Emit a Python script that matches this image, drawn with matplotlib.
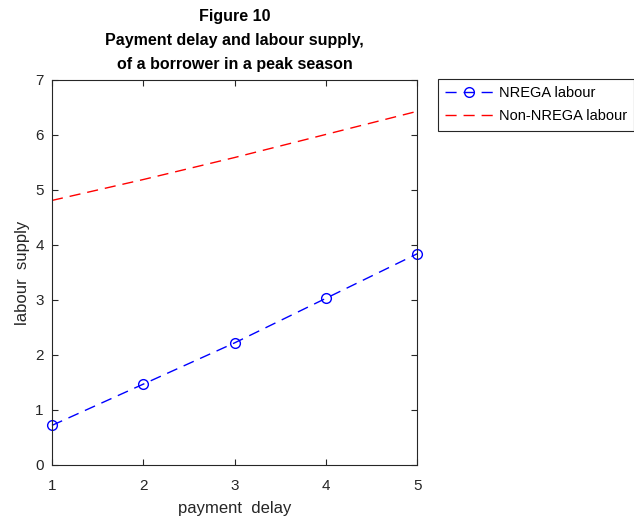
import matplotlib
matplotlib.use("Agg")
import matplotlib.pyplot as plt

plt.rcParams['font.family'] = ['Liberation Sans', 'DejaVu Sans']

delay = [1, 2, 3, 4, 5]
nrega = [0.72, 1.47, 2.22, 3.03, 3.84]
non_nrega = [4.81, 5.19, 5.59, 6.01, 6.43]

fig = plt.figure(figsize=(6.34, 5.21), dpi=100)
ax = fig.add_axes([0.082, 0.1075, 0.576, 0.739])

ax.plot(delay, nrega, color='blue', linestyle=(0, (8, 5)), linewidth=1.0,
        marker='o', markersize=7, markerfacecolor='none', markeredgewidth=1.0,
        label='NREGA labour', clip_on=False)
ax.plot(delay, non_nrega, color='red', linestyle=(0, (8, 5)), linewidth=1.0,
        label='Non-NREGA labour')

ax.set_xlim(1, 5)
ax.set_ylim(0, 7)
ax.set_xticks([1, 2, 3, 4, 5])
ax.set_yticks(range(0, 8))
ax.tick_params(direction='in', top=True, right=True, labelsize=11,
               colors='#262626', length=4, width=0.8)
ax.tick_params(axis='x', pad=10)
ax.tick_params(axis='y', pad=6)
for s in ax.spines.values():
    s.set_color('#262626')
    s.set_linewidth(0.8)

ax.set_xlabel('payment  delay', fontsize=12, color='#262626', labelpad=6)
ax.set_ylabel('labour  supply', fontsize=12, color='#262626')
ax.set_title('Figure 10\nPayment delay and labour supply,\nof a borrower in a peak season',
             fontsize=11.5, fontweight='bold', linespacing=1.75, pad=8)

leg = ax.legend(loc='upper left', bbox_to_anchor=(0.691, 0.848),
                bbox_transform=fig.transFigure, fontsize=10.5, fancybox=False,
                framealpha=1, edgecolor='#262626', borderaxespad=0,
                handlelength=3.3, handletextpad=0.35, borderpad=0.5,
                labelspacing=0.6)
leg.get_frame().set_linewidth(0.8)

fig.savefig('out.png', dpi=100)
